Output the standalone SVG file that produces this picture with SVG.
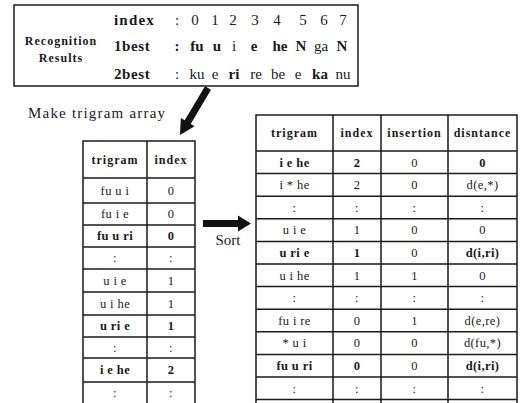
<svg xmlns="http://www.w3.org/2000/svg" width="520" height="403" viewBox="0 0 520 403" font-family="'Liberation Serif', 'DejaVu Serif', serif">
<style>
text{fill:#1a1a1a}
.c{text-anchor:middle}
.b{font-weight:bold}
.h{font-size:12px;font-weight:bold;letter-spacing:1px;text-anchor:middle}
.d{font-size:12.5px;text-anchor:middle;letter-spacing:0.4px}
.g{fill:none;stroke:#1a1a1a;stroke-width:1.5}
</style>
<rect width="520" height="403" fill="#fff"/>
<g id="results">
<rect class="g" x="14" y="5" width="344" height="81"/>
<text x="61" y="45" class="c b" font-size="12" letter-spacing="1">Recognition</text>
<text x="61" y="62" class="c b" font-size="12" letter-spacing="1">Results</text>
<g font-size="15">
<text x="114" y="25" class="b" letter-spacing="1.2">index</text>
<text x="114" y="51" class="b" letter-spacing="0.6">1best</text>
<text x="114" y="79" class="b" letter-spacing="0.6">2best</text>
<text x="177" y="25" class="c">:</text>
<text x="177" y="51" class="c b">:</text>
<text x="177" y="79" class="c">:</text>
<text y="25" class="c"><tspan x="195">0</tspan><tspan x="215">1</tspan><tspan x="233">2</tspan><tspan x="255">3</tspan><tspan x="277">4</tspan><tspan x="303">5</tspan><tspan x="324">6</tspan><tspan x="343">7</tspan></text>
<text y="51" class="c"><tspan x="197" font-weight="bold">fu</tspan><tspan x="217" font-weight="bold">u</tspan><tspan x="234">i</tspan><tspan x="254" font-weight="bold">e</tspan><tspan x="280" font-weight="bold">he</tspan><tspan x="301" font-weight="bold">N</tspan><tspan x="321">ga</tspan><tspan x="342" font-weight="bold">N</tspan></text>
<text y="79" class="c"><tspan x="197">ku</tspan><tspan x="215">e</tspan><tspan x="234" font-weight="bold">ri</tspan><tspan x="256">re</tspan><tspan x="278">be</tspan><tspan x="298">e</tspan><tspan x="320" font-weight="bold">ka</tspan><tspan x="343">nu</tspan></text>
</g>
</g>
<g id="connectors" fill="#111">
<polygon points="211,89.8 205,86.2 184.7,120.3 180.8,118 180,135 194.6,126.2 190.7,123.9"/>
<polygon points="203,220 238,220 238,215.5 251,223.5 238,231.5 238,227 203,227"/>
</g>
<g id="label-make">
<text x="28" y="118" font-size="15" textLength="137" lengthAdjust="spacing">Make trigram array</text>
</g>
<g id="label-sort">
<text x="228" y="245" class="c" font-size="15">Sort</text>
</g>
<g id="trigram-array">
<path class="g" d="M83,403V141H195V403M147,141V403M83,178H195M83,203H195M83,225H195M83,247H195M83,269H195M83,292H195M83,315H195M83,337H195M83,358H195M83,382H195"/>
<text x="115" y="164" class="h">trigram</text>
<text x="171" y="164" class="h">index</text>
<g class="d">
<text x="115" y="195">fu u i</text><text x="171" y="195">0</text>
<text x="115" y="218">fu i e</text><text x="171" y="218">0</text>
<text x="115" y="240" class="b">fu u ri</text><text x="171" y="240" class="b">0</text>
<text x="115" y="262">:</text><text x="171" y="262">:</text>
<text x="115" y="285">u i e</text><text x="171" y="285">1</text>
<text x="115" y="308">u i he</text><text x="171" y="308">1</text>
<text x="115" y="330" class="b">u ri e</text><text x="171" y="330" class="b">1</text>
<text x="115" y="352">:</text><text x="171" y="352">:</text>
<text x="115" y="374" class="b">i e he</text><text x="171" y="374" class="b">2</text>
<text x="115" y="397">:</text><text x="171" y="397">:</text>
</g>
</g>
<g id="sorted-array">
<path class="g" d="M256,403V115H517V403M333,115V403M381,115V403M448,115V403M256,151H517M256,173.6H517M256,196.2H517M256,218.8H517M256,241.4H517M256,264H517M256,286.6H517M256,309.2H517M256,331.8H517M256,354.4H517M256,377H517M256,399.6H517"/>
<text x="294.5" y="137" class="h">trigram</text>
<text x="357" y="137" class="h">index</text>
<text x="414.5" y="137" class="h">insertion</text>
<text x="482.5" y="137" class="h">disntance</text>
<g class="d">
<text x="294.5" y="166.5" class="b">i e he</text><text x="357" y="166.5" class="b">2</text><text x="414.5" y="166.5">0</text><text x="482.5" y="166.5" class="b">0</text>
<text x="294.5" y="189">i * he</text><text x="357" y="189">2</text><text x="414.5" y="189">0</text><text x="482.5" y="189">d(e,*)</text>
<text x="294.5" y="211.5">:</text><text x="357" y="211.5">:</text><text x="414.5" y="211.5">:</text><text x="482.5" y="211.5">:</text>
<text x="294.5" y="234">u i e</text><text x="357" y="234">1</text><text x="414.5" y="234">0</text><text x="482.5" y="234">0</text>
<text x="294.5" y="257" class="b">u ri e</text><text x="357" y="257" class="b">1</text><text x="414.5" y="257">0</text><text x="482.5" y="257" class="b">d(i,ri)</text>
<text x="294.5" y="279.5">u i he</text><text x="357" y="279.5">1</text><text x="414.5" y="279.5">1</text><text x="482.5" y="279.5">0</text>
<text x="294.5" y="302">:</text><text x="357" y="302">:</text><text x="414.5" y="302">:</text><text x="482.5" y="302">:</text>
<text x="294.5" y="324.5">fu i re</text><text x="357" y="324.5">0</text><text x="414.5" y="324.5">1</text><text x="482.5" y="324.5">d(e,re)</text>
<text x="294.5" y="347">* u i</text><text x="357" y="347">0</text><text x="414.5" y="347">0</text><text x="482.5" y="347">d(fu,*)</text>
<text x="294.5" y="370" class="b">fu u ri</text><text x="357" y="370" class="b">0</text><text x="414.5" y="370">0</text><text x="482.5" y="370" class="b">d(i,ri)</text>
<text x="294.5" y="392.5">:</text><text x="357" y="392.5">:</text><text x="414.5" y="392.5">:</text><text x="482.5" y="392.5">:</text>
</g>
</g>
</svg>
